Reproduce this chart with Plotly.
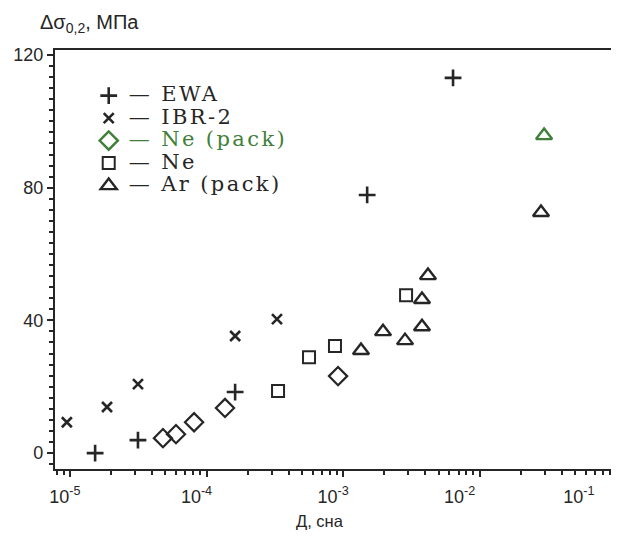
import plotly.graph_objects as go

# ---- data ----
ewa_x = [1.53e-5, 3.15e-5, 1.62e-4, 1.50e-3, 6.38e-3]
ewa_y = [0.0, 3.9, 18.4, 77.8, 113.1]

ibr_x = [9.5e-6, 1.87e-5, 3.15e-5, 1.62e-4, 3.28e-4]
ibr_y = [9.3, 13.9, 20.8, 35.3, 40.4]

ne_pack_x = [4.80e-5, 5.98e-5, 8.11e-5, 1.366e-4, 9.18e-4]
ne_pack_y = [4.5, 5.7, 9.3, 13.6, 23.2]

ne_x = [3.34e-4, 5.63e-4, 8.72e-4, 2.89e-3]
ne_y = [18.7, 28.9, 32.3, 47.6]

ar_pack_x = [1.352e-3, 1.96e-3, 2.84e-3, 3.78e-3, 3.78e-3, 4.18e-3, 2.81e-2]
ar_pack_y = [30.9, 36.6, 33.9, 38.1, 46.3, 53.5, 72.5]

green_tri_x = [2.96e-2]
green_tri_y = [95.7]

x_tick_vals = [1e-5, 1e-4, 1e-3, 1e-2, 1e-1]
x_tick_text = ["10<sup>-5</sup>", "10<sup>-4</sup>", "10<sup>-3</sup>", "10<sup>-2</sup>", "10<sup>-1</sup>"]
# label nudges to the left (in non-breaking spaces), as printed in the original
x_tick_nudge = [2, 4, 4, 8, 15]
y_tick_vals = [0, 40, 80, 120]
y_tick_text = ["0", "40", "80", "120"]

legend_names = ["EWA", "IBR-2", "Ne (pack)", "Ne", "Ar (pack)"]

INK = "#262626"
GREEN = "#3f7f3a"


def lname(txt, color=INK):
    return ('<span style="font-size:21px;letter-spacing:2.4px;fill:%s">— %s</span>' % (color, txt))


fig = go.Figure()

fig.add_trace(go.Scatter(x=ewa_x, y=ewa_y, mode="markers", name=lname(legend_names[0]),
                         marker=dict(symbol="cross-thin-open", size=12, color=INK,
                                     line=dict(width=2.6, color=INK))))
fig.add_trace(go.Scatter(x=ibr_x, y=ibr_y, mode="markers", name=lname(legend_names[1]),
                         marker=dict(symbol="x-thin-open", size=10, color=INK,
                                     line=dict(width=2.6, color=INK))))
# Ne (pack): black diamonds on the plot, green entry in the legend
fig.add_trace(go.Scatter(x=ne_pack_x, y=ne_pack_y, mode="markers", showlegend=False,
                         marker=dict(symbol="diamond-open", size=14, color=INK,
                                     line=dict(width=2.2, color=INK))))
fig.add_trace(go.Scatter(x=[None], y=[None], mode="markers", name=lname(legend_names[2], GREEN),
                         marker=dict(symbol="diamond-open", size=14, color=GREEN,
                                     line=dict(width=2.4, color=GREEN))))
fig.add_trace(go.Scatter(x=ne_x, y=ne_y, mode="markers", name=lname(legend_names[3]),
                         marker=dict(symbol="square-open", size=12, color=INK,
                                     line=dict(width=2.0, color=INK))))
fig.add_trace(go.Scatter(x=ar_pack_x, y=ar_pack_y, mode="markers", name=lname(legend_names[4]),
                         marker=dict(symbol="triangle-up-open", size=14, color=INK,
                                     line=dict(width=2.4, color=INK))))
fig.add_trace(go.Scatter(x=green_tri_x, y=green_tri_y, mode="markers", showlegend=False,
                         marker=dict(symbol="triangle-up-open", size=14, color=GREEN,
                                     line=dict(width=2.4, color=GREEN))))

minor_x = [m * 10.0 ** e for e in range(-6, -1) for m in range(2, 10)]
x_text = [t + "\u00a0" * n for t, n in zip(x_tick_text, x_tick_nudge)]

# the page body adds an 8px margin, so the figure is 8px smaller than the window
fig.update_layout(
    width=611, height=529,
    margin=dict(l=47, r=2, t=42, b=68, autoexpand=False),
    paper_bgcolor="white", plot_bgcolor="white",
    font=dict(family="Liberation Sans, Arial, sans-serif", color=INK, size=18),
    showlegend=True,
    legend=dict(x=0.06, y=0.93, xanchor="left", yanchor="top",
                bgcolor="rgba(0,0,0,0)", borderwidth=0,
                font=dict(family="DejaVu Serif, serif", size=15, color=INK),
                itemsizing="trace", traceorder="normal"),
    xaxis=dict(type="log", range=[-5.109, -0.995], automargin=False,
               tickmode="array", tickvals=x_tick_vals, ticktext=x_text,
               ticks="outside", ticklen=6, tickwidth=2, tickcolor=INK,
               ticklabelstandoff=4, ticklabeloverflow="allow",
               minor=dict(tickmode="array", tickvals=minor_x, ticks="outside",
                          ticklen=4, tickwidth=1.5, tickcolor=INK, showgrid=False),
               showgrid=False, zeroline=False,
               showline=True, linewidth=2.2, linecolor=INK, mirror=True,
               tickfont=dict(size=18)),
    yaxis=dict(range=[-4.8, 121.5], automargin=False,
               tickmode="array", tickvals=y_tick_vals, ticktext=y_tick_text,
               ticks="outside", ticklen=6, tickwidth=2, tickcolor=INK,
               minor=dict(dtick=40 / 12, tick0=0, ticks="outside", ticklen=4,
                          tickwidth=1.5, tickcolor=INK, showgrid=False),
               showgrid=False, zeroline=False,
               showline=True, linewidth=2.2, linecolor=INK, mirror=True,
               tickfont=dict(size=18)),
    annotations=[
        dict(text="Δσ<sub>0,2</sub>, МПа", xref="paper", yref="paper",
             x=-0.03, y=1.098, xanchor="left", yanchor="top", showarrow=False,
             font=dict(size=20, color=INK)),
        dict(text="Д, сна", xref="paper", yref="paper",
             x=0.472, y=-0.124, xanchor="center", yanchor="middle", showarrow=False,
             font=dict(size=16.5, color=INK)),
    ],
)

fig.write_html("out.html")
